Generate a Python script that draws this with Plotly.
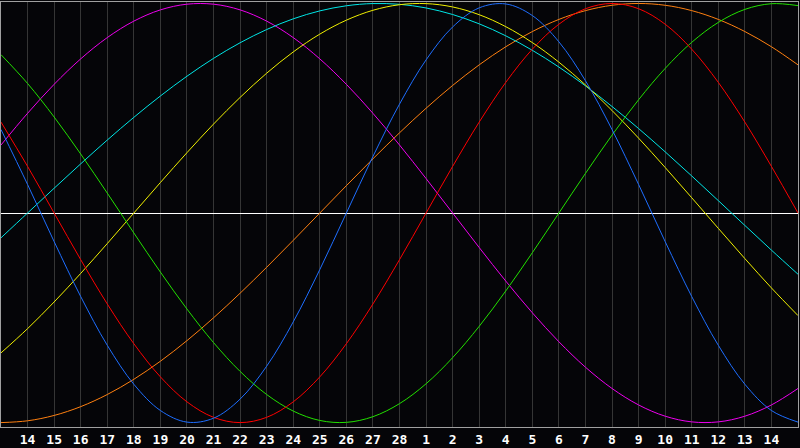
import plotly.graph_objects as go

# day index: -1 .. 29 (index 0 = day "14", index 14 = day "28")
days = list(range(-1, 30))
tick_idx = list(range(0, 29))
tick_labels = ["14", "15", "16", "17", "18", "19", "20", "21", "22", "23", "24", "25", "26", "27", "28",
               "1", "2", "3", "4", "5", "6", "7", "8", "9", "10", "11", "12", "13", "14"]

physical = [0.3984, 0.1362, -0.1362, -0.3984, -0.6311, -0.8170, -0.9423, -0.9977, -0.9791, -0.8879,
            -0.7308, -0.5196, -0.2698, 0.0, 0.2698, 0.5196, 0.7308, 0.8879, 0.9791, 0.9977,
            0.9423, 0.8170, 0.6311, 0.3984, 0.1362, -0.1362, -0.3984, -0.6311, -0.8170, -0.9423, -0.9977]
emotional = [0.4339, 0.2225, 0.0, -0.2225, -0.4339, -0.6235, -0.7818, -0.9010, -0.9749, -1.0,
             -0.9749, -0.9010, -0.7818, -0.6235, -0.4339, -0.2225, 0.0, 0.2225, 0.4339, 0.6235,
             0.7818, 0.9010, 0.9749, 1.0, 0.9749, 0.9010, 0.7818, 0.6235, 0.4339, 0.2225, 0.0]
intellectual = [0.7557, 0.6182, 0.4582, 0.2817, 0.0951, -0.0951, -0.2817, -0.4582, -0.6182, -0.7557,
                -0.8660, -0.9450, -0.9898, -0.9989, -0.9718, -0.9096, -0.8146, -0.6901, -0.5406, -0.3717,
                -0.1893, 0.0, 0.1893, 0.3717, 0.5406, 0.6901, 0.8146, 0.9096, 0.9718, 0.9989, 0.9898]
intuitive = [0.3247, 0.4759, 0.6142, 0.7357, 0.8372, 0.9158, 0.9694, 0.9966, 0.9966, 0.9694,
             0.9158, 0.8372, 0.7357, 0.6142, 0.4759, 0.3247, 0.1646, 0.0, -0.1646, -0.3247,
             -0.4759, -0.6142, -0.7357, -0.8372, -0.9158, -0.9694, -0.9966, -0.9966, -0.9694, -0.9158, -0.8372]
aesthetic = [-0.6673, -0.5517, -0.4244, -0.2881, -0.1456, 0.0, 0.1456, 0.2881, 0.4244, 0.5517,
             0.6673, 0.7686, 0.8537, 0.9203, 0.9675, 0.9940, 0.9993, 0.9834, 0.9464, 0.8893,
             0.8133, 0.7199, 0.6112, 0.4894, 0.3573, 0.2174, 0.0730, -0.0730, -0.2174, -0.3573, -0.4894]
awareness = [-1.0, -0.9914, -0.9659, -0.9239, -0.8660, -0.7934, -0.7071, -0.6088, -0.5, -0.3827,
             -0.2588, -0.1305, 0.0, 0.1305, 0.2588, 0.3827, 0.5, 0.6088, 0.7071, 0.7934,
             0.8660, 0.9239, 0.9659, 0.9914, 1.0, 0.9914, 0.9659, 0.9239, 0.8660, 0.7934, 0.7071]
spiritual = [-0.1183, 0.0, 0.1183, 0.2348, 0.3482, 0.4566, 0.5586, 0.6529, 0.7379, 0.8125,
             0.8757, 0.9267, 0.9646, 0.9890, 0.9996, 0.9960, 0.9786, 0.9473, 0.9028, 0.8456,
             0.7765, 0.6966, 0.6068, 0.5085, 0.4031, 0.2921, 0.1769, 0.0592, -0.0592, -0.1769, -0.2920]

series = [
    ("Awareness", awareness, "#ff8010"),
    ("Intuitive", intuitive, "#ee00ee"),
    ("Spiritual", spiritual, "#00e6e6"),
    ("Aesthetic", aesthetic, "#f0f000"),
    ("Intellectual", intellectual, "#22e000"),
    ("Emotional", emotional, "#ff0000"),
    ("Physical", physical, "#1e6eff"),
]

fig = go.Figure()
for name, vals, col in series:
    fig.add_trace(go.Scatter(x=days, y=vals, name=name, mode="lines",
                             line=dict(color=col, width=1, shape="spline", smoothing=1.0),
                             hoverinfo="skip"))

# centre (today) vertical line
fig.add_shape(type="line", xref="x", yref="paper", x0=14, x1=14, y0=0, y1=1,
              line=dict(color="#ffffff", width=1), layer="between")

fig.update_layout(
    width=800, height=448, autosize=False,
    margin=dict(l=1, r=1, t=1, b=20),
    paper_bgcolor="#050508", plot_bgcolor="#050508",
    showlegend=False,
)
fig.update_xaxes(range=[-1, 29], tickmode="array", tickvals=tick_idx, ticktext=tick_labels,
                 showgrid=True, gridcolor="#353535", gridwidth=1, zeroline=False,
                 showline=True, linecolor="#a0a0a0", linewidth=1, mirror=True,
                 ticks="", ticklen=0,
                 tickfont=dict(family="DejaVu Sans Mono", size=13, color="#ffffff", weight="bold"))
fig.update_yaxes(range=[-1.021, 1.007], showgrid=False, showticklabels=False,
                 zeroline=True, zerolinecolor="#ffffff", zerolinewidth=1,
                 showline=True, linecolor="#a0a0a0", linewidth=1, mirror=True, ticks="")

fig.write_html("out.html", config={"displayModeBar": False},
               post_script="document.body.style.margin='0';document.body.style.background='#050508';")
